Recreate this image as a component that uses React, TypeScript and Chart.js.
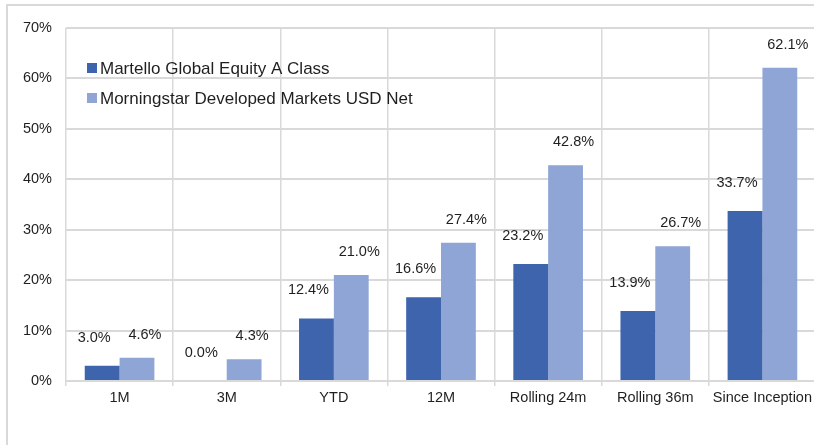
import React, { useEffect, useRef } from "react";
import { Chart, registerables } from "chart.js";

Chart.register(...registerables);

const categories = ["1M", "3M", "YTD", "12M", "Rolling 24m", "Rolling 36m", "Since Inception"];
const seriesNames = ["Martello Global Equity A Class", "Morningstar Developed Markets USD Net"];
const martelloValues = [3.0, 0.0, 12.4, 16.6, 23.2, 13.9, 33.7];
const morningstarValues = [4.6, 4.3, 21.0, 27.4, 42.8, 26.7, 62.1];
const yTickValues = [0, 10, 20, 30, 40, 50, 60, 70];

const FONT = "'Liberation Sans', Arial, sans-serif";
const TEXT = "#1f1f1f";
const GRID = "#d9d9d9";
const COLORS = ["#3d64ad", "#8fa5d6"];

const labelPlugin = {
  id: "barLabels",
  afterDatasetsDraw(chart: any) {
    const ctx = chart.ctx;
    ctx.save();
    ctx.font = `14.5px ${FONT}`;
    ctx.fillStyle = TEXT;
    ctx.textAlign = "center";
    ctx.textBaseline = "middle";
    const offsets = [
      { dx: -8, dy: -28 },
      { dx: 8, dy: -23 },
    ];
    chart.data.datasets.forEach((ds: any, di: number) => {
      const meta = chart.getDatasetMeta(di);
      meta.data.forEach((el: any, i: number) => {
        const v = ds.data[i] as number;
        ctx.fillText(v.toFixed(1) + "%", el.x + offsets[di].dx, el.y + offsets[di].dy);
      });
    });
    // legend inside plot area
    const area = chart.chartArea;
    ctx.font = `17px ${FONT}`;
    ctx.textAlign = "left";
    chart.data.datasets.forEach((ds: any, di: number) => {
      const cy = area.top + 40 + di * 30;
      const sx = area.left + 21;
      ctx.fillStyle = ds.backgroundColor;
      ctx.fillRect(sx, cy - 5, 10, 10);
      ctx.fillStyle = TEXT;
      ctx.fillText(ds.label, sx + 13, cy + 1);
    });
    ctx.restore();
  },
};

export default function App() {
  const ref = useRef<HTMLCanvasElement | null>(null);
  useEffect(() => {
    if (!ref.current) return;
    const chart = new Chart(ref.current, {
      type: "bar",
      data: {
        labels: categories,
        datasets: [
          {
            label: seriesNames[0],
            data: martelloValues,
            backgroundColor: COLORS[0],
            categoryPercentage: 0.65,
            barPercentage: 1,
          },
          {
            label: seriesNames[1],
            data: morningstarValues,
            backgroundColor: COLORS[1],
            categoryPercentage: 0.65,
            barPercentage: 1,
          },
        ],
      },
      options: {
        animation: false,
        responsive: false,
        maintainAspectRatio: false,
        layout: { padding: { top: 28, right: 4, bottom: 34, left: 0 } },
        plugins: {
          legend: { display: false },
          tooltip: { enabled: false },
          title: { display: false },
        },
        scales: {
          x: {
            offset: true,
            grid: {
              offset: true,
              color: GRID,
              lineWidth: 1.5,
              drawTicks: true,
              tickLength: 5,
              tickColor: GRID,
            },
            border: { color: GRID, width: 2 },
            ticks: {
              font: { family: FONT, size: 14.5 },
              color: TEXT,
              maxRotation: 0,
              autoSkip: false,
              padding: 3,
            },
            afterFit: (scale: any) => {
              scale.height = 30;
            },
          },
          y: {
            min: 0,
            max: 70,
            afterBuildTicks: (scale: any) => {
              scale.ticks = yTickValues.map((v) => ({ value: v }));
            },
            grid: { color: GRID, lineWidth: 2, drawTicks: false },
            border: { display: false },
            ticks: {
              font: { family: FONT, size: 14.5 },
              color: TEXT,
              padding: 14,
              callback: (v: any) => v + "%",
            },
            afterFit: (scale: any) => {
              scale.width = 66;
            },
          },
        },
      },
      plugins: [labelPlugin],
    });
    return () => chart.destroy();
  }, []);

  return (
    <div
      style={{
        position: "fixed",
        left: 0,
        top: 0,
        width: 814,
        height: 445,
        overflow: "hidden",
        background: "#ffffff",
      }}
    >
      <div
        style={{
          position: "absolute",
          left: 6,
          top: 4,
          width: 900,
          height: 600,
          borderLeft: `2px solid ${GRID}`,
          borderTop: `2px solid ${GRID}`,
        }}
      />
      <canvas
        ref={ref}
        width={820}
        height={445}
        style={{ position: "absolute", left: 0, top: 0, width: 820, height: 445 }}
      />
    </div>
  );
}
